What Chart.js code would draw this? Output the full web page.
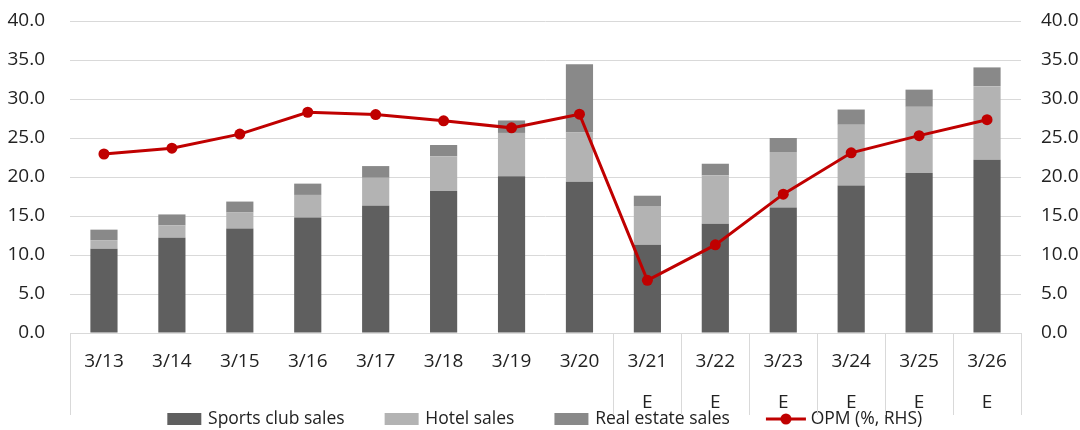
<!DOCTYPE html>
<html>
<head>
<meta charset="utf-8">
<script src="https://cdn.jsdelivr.net/npm/chart.js@4/dist/chart.umd.min.js"></script>
<style>
  html, body { margin: 0; padding: 0; background: #ffffff; }
  #wrap { width: 1080px; height: 430px; position: relative; }
</style>
</head>
<body>
<div id="wrap"><canvas id="c"></canvas></div>
<script>
// ---- data ----
const categories = ['3/13','3/14','3/15','3/16','3/17','3/18','3/19','3/20','3/21','3/22','3/23','3/24','3/25','3/26'];
const estimateMarks = ['', '', '', '', '', '', '', '', 'E', 'E', 'E', 'E', 'E', 'E'];
const sportsClubSales = [10.8, 12.2, 13.4, 14.8, 16.3, 18.2, 20.1, 19.4, 11.3, 14.0, 16.1, 18.9, 20.5, 22.2];
const hotelSales      = [1.1, 1.6, 2.05, 2.9, 3.6, 4.45, 5.55, 6.3, 4.9, 6.2, 7.1, 7.8, 8.5, 9.45];
const realEstateSales = [1.35, 1.4, 1.4, 1.45, 1.5, 1.45, 1.6, 8.75, 1.4, 1.5, 1.8, 1.95, 2.2, 2.4];
const opm             = [22.95, 23.7, 25.5, 28.3, 28.0, 27.2, 26.3, 28.05, 6.75, 11.3, 17.8, 23.1, 25.3, 27.35];
const groupBoundaries = [0, 8, 9, 10, 11, 12, 13, 14]; // category-axis group borders

const FONT = "'Open Sans', 'DejaVu Sans', sans-serif";
const TXT = '#222222';
const GRID = '#D9D9D9';
const RED = '#C00000';
const COLORS = ['#5F5F5F', '#B3B3B3', '#898989'];

// legend symbols (drawn into small canvases used as point styles)
function makeIcon(kind, color) {
  const cv = document.createElement('canvas');
  cv.width = 84; cv.height = 12;
  const g = cv.getContext('2d');
  if (kind === 'line') {
    g.strokeStyle = color; g.lineWidth = 3;
    g.beginPath(); g.moveTo(42, 6); g.lineTo(82, 6); g.stroke();
    g.fillStyle = color; g.beginPath(); g.arc(62, 6, 5.5, 0, Math.PI * 2); g.fill();
  } else {
    g.fillStyle = color; g.fillRect(46, 0, 34, 12);
  }
  return cv;
}

const separatorPlugin = {
  id: 'separators',
  afterDraw(chart) {
    const x = chart.scales.x;
    const ctx = chart.ctx;
    const top = chart.chartArea.bottom;
    const bottom = top + 82;
    ctx.save();
    ctx.strokeStyle = GRID;
    ctx.lineWidth = 1;
    groupBoundaries.forEach(b => {
      let px;
      if (b === 0) px = chart.chartArea.left;
      else if (b >= categories.length) px = chart.chartArea.right;
      else px = (x.getPixelForValue(b - 1) + x.getPixelForValue(b)) / 2;
      px = Math.round(px) + 0.5;
      ctx.beginPath(); ctx.moveTo(px, top); ctx.lineTo(px, bottom); ctx.stroke();
    });
    ctx.restore();
  }
};

function yFit(w) {
  return function (scale) { scale.width = w; scale.paddingTop = 11; scale.paddingBottom = 11; };
}

new Chart(document.getElementById('c'), {
  type: 'bar',
  data: {
    labels: categories,
    datasets: [
      { label: 'Sports club sales', data: sportsClubSales, backgroundColor: COLORS[0], stack: 's', order: 1, xAxisID: 'x', yAxisID: 'y', barPercentage: 0.4, categoryPercentage: 1.0, borderWidth: 0 },
      { label: 'Hotel sales', data: hotelSales, backgroundColor: COLORS[1], stack: 's', order: 1, xAxisID: 'x', yAxisID: 'y', barPercentage: 0.4, categoryPercentage: 1.0, borderWidth: 0 },
      { label: 'Real estate sales', data: realEstateSales, backgroundColor: COLORS[2], stack: 's', order: 1, xAxisID: 'x', yAxisID: 'y', barPercentage: 0.4, categoryPercentage: 1.0, borderWidth: 0 },
      { type: 'line', label: 'OPM (%, RHS)', data: opm, borderColor: RED, backgroundColor: RED, borderWidth: 3, pointRadius: 5.5, pointHoverRadius: 5.5, pointBackgroundColor: RED, pointBorderWidth: 0, tension: 0, order: 0, xAxisID: 'x', yAxisID: 'y2' }
    ]
  },
  options: {
    responsive: true,
    maintainAspectRatio: false,
    animation: false,
    events: [],
    layout: { padding: { top: 21, left: -29.5, right: 1, bottom: -7.75 } },
    scales: {
      x: {
        stacked: true,
        position: 'bottom',
        grid: { display: false, drawTicks: false },
        border: { display: true, color: GRID },
        ticks: { color: TXT, font: { family: FONT, size: 19 }, padding: 17.6, autoSkip: false, maxRotation: 0, minRotation: 0 },
        afterFit(scale) { scale.height = 40; }
      },
      x2: {
        type: 'category',
        position: 'bottom',
        labels: estimateMarks,
        offset: true,
        grid: { display: false, drawTicks: false },
        border: { display: false },
        ticks: { color: TXT, font: { family: FONT, size: 19 }, padding: 18.6, autoSkip: false, maxRotation: 0, minRotation: 0 },
        afterFit(scale) { scale.height = 37.25; }
      },
      y: {
        stacked: true,
        position: 'left',
        min: 0, max: 40,
        grid: { color: GRID, drawTicks: false },
        border: { display: false },
        ticks: { stepSize: 5, color: TXT, font: { family: FONT, size: 19 }, padding: 25, callback: v => Number(v).toFixed(1) },
        afterFit: yFit(99.5)
      },
      y2: {
        position: 'right',
        min: 0, max: 40,
        grid: { display: false, drawTicks: false },
        border: { display: false },
        ticks: { stepSize: 5, color: TXT, font: { family: FONT, size: 19 }, padding: 20, callback: v => Number(v).toFixed(1) },
        afterFit: yFit(58)
      }
    },
    plugins: {
      tooltip: { enabled: false },
      legend: {
        position: 'bottom',
        labels: {
          color: TXT,
          font: { family: FONT, size: 17.5 },
          usePointStyle: true,
          pointStyleWidth: 72,
          boxHeight: 12,
          padding: 0,
          sort: (a, b) => a.datasetIndex - b.datasetIndex,
          generateLabels(chart) {
            const items = Chart.defaults.plugins.legend.labels.generateLabels(chart);
            items.forEach(it => {
              const ds = chart.data.datasets[it.datasetIndex];
              it.pointStyle = ds.type === 'line' ? makeIcon('line', RED) : makeIcon('rect', ds.backgroundColor);
              it.lineWidth = 0;
            });
            return items;
          }
        }
      }
    }
  },
  plugins: [separatorPlugin]
});
</script>
</body>
</html>
